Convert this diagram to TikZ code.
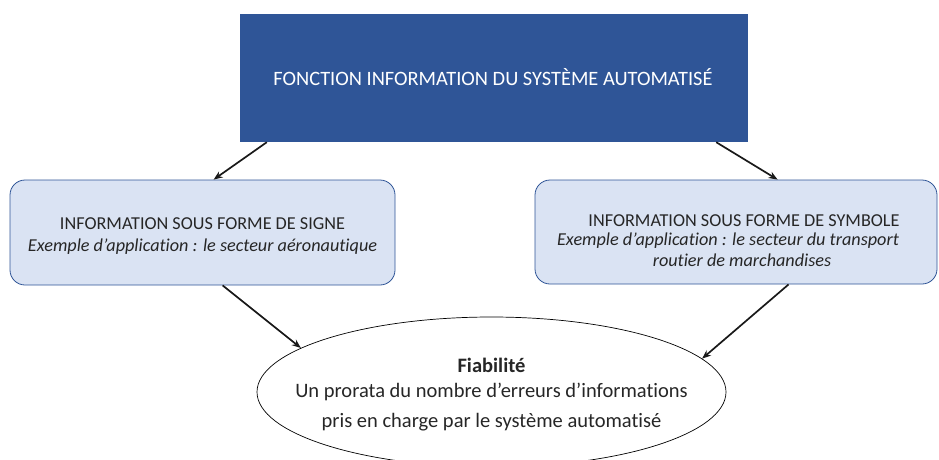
\documentclass[tikz,border=0pt]{standalone}
\usepackage{fontspec}
\setmainfont{Carlito}[Ligatures={NoCommon,NoRare,NoContextual},Contextuals={NoAlternate}]
\usetikzlibrary{shapes.geometric,arrows.meta}
\definecolor{darkblue}{HTML}{2F5597}
\definecolor{lightblue}{HTML}{DAE3F3}
\definecolor{txt}{HTML}{262626}
\tikzset{
  topbox/.style={draw=none, fill=darkblue, inner sep=0pt, minimum width=508pt, minimum height=128pt},
  subbox/.style={draw=darkblue, line width=0.8pt, fill=lightblue, rounded corners=15pt, inner sep=0pt},
  ellbox/.style={draw=black, line width=0.7pt, ellipse, inner sep=0pt, minimum width=469pt, minimum height=150pt},
  line/.style={text=txt, anchor=base, inner sep=0pt},
  boxfont/.style={font=\fontsize{18.2}{22}\selectfont},
  boxit/.style={font=\fontsize{18.2}{22}\selectfont\itshape},
  ellfont/.style={font=\fontsize{20.5}{24}\selectfont},
  ellbold/.style={font=\fontsize{20.5}{24}\selectfont\bfseries},
  arr/.style={draw=black!90, line width=1.7pt, -{Stealth[length=9pt,width=7pt]}}
}
\begin{document}
\begin{tikzpicture}[x=1pt,y=-1pt]
\useasboundingbox (0,0) rectangle (939,459);
\node[topbox] (top) at (494,78) {};
\node[line, text=white, font=\fontsize{20.4}{24}\selectfont] (toptxt) at (493,85) {FONCTION INFORMATION DU SYSTÈME AUTOMATISÉ};

\node[subbox, minimum width=385pt, minimum height=105pt] (lbox) at (202.5,232.5) {};
\node[line, boxfont] (l1) at (202.5,229) {INFORMATION SOUS FORME DE SIGNE};
\node[line, boxit] (l2) at (202.5,251) {Exemple d’application : le secteur aéronautique};

\node[subbox, minimum width=402pt, minimum height=104pt] (rbox) at (736,232) {};
\node[line, boxfont] (r1) at (744,226) {INFORMATION SOUS FORME DE SYMBOLE};
\node[line, boxit] (r2) at (728,245) {Exemple d’application : le secteur du transport};
\node[line, boxit] (r3) at (742,266) {routier de marchandises};

\node[ellbox] (ell) at (491.5,392) {};
\node[line, ellbold] (e1) at (491.5,372) {Fiabilité};
\node[line, ellfont] (e2) at (491.5,397) {Un prorata du nombre d’erreurs d’informations};
\node[line, ellfont] (e3) at (491.5,427) {pris en charge par le système automatisé};

\draw[arr] ([xshift=27pt]top.south west) -- ([xshift=204pt]lbox.north west);
\draw[arr] ([xshift=-32pt]top.south east) -- ([xshift=243pt]rbox.north west);
\draw[arr] ([xshift=213pt]lbox.south west) -- (ell.167.6);
\draw[arr] ([xshift=254pt]rbox.south west) -- (ell.9.5);
\end{tikzpicture}
\end{document}
